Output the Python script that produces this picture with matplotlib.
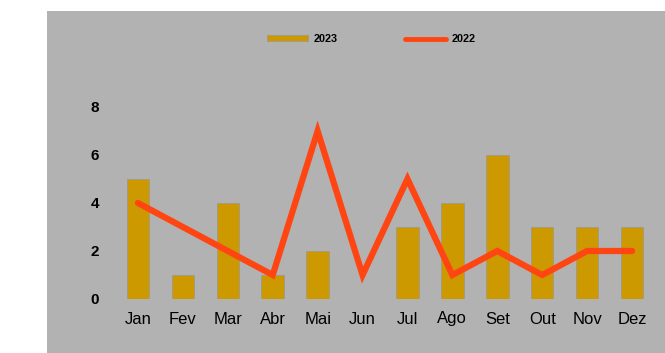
import numpy as np
import matplotlib.pyplot as plt
from matplotlib.patches import Rectangle

plt.rcParams['font.family'] = ['Liberation Sans', 'DejaVu Sans']

months = ["Jan", "Fev", "Mar", "Abr", "Mai", "Jun", "Jul", "Ago", "Set", "Out", "Nov", "Dez"]
vals_2023 = [5, 1, 4, 1, 2, 0, 3, 4, 6, 3, 3, 3]
vals_2022 = [4, 3, 2, 1, 7, 1, 5, 1, 2, 1, 2, 2]

bg = "#b2b2b2"

fig = plt.figure(figsize=(6.65, 3.53), dpi=100)
fig.patch.set_facecolor("white")
# gray panel behind the chart
fig.patches.append(Rectangle((47 / 665, 0), 1 - 47 / 665, 342 / 353,
                             transform=fig.transFigure, facecolor=bg,
                             edgecolor="none", zorder=-10))

ax = fig.add_axes([115.5 / 665, 54 / 353, 539 / 665, 240 / 353])
ax.set_facecolor("none")

x = np.arange(len(months))
bars = ax.bar(x, vals_2023, width=0.5, color="#cc9900", edgecolor="#a09a8a",
              linewidth=0.6, label="2023", zorder=2)
line, = ax.plot(x, vals_2022, color="#ff4511", linewidth=4.5, solid_capstyle="round",
                solid_joinstyle="miter", label="2022", zorder=3)

ax.set_xlim(-0.5, 11.5)
ax.set_ylim(0, 10)
ax.set_yticks([0, 2, 4, 6, 8])
ax.set_xticks(x)
ax.set_xticklabels(months, fontsize=12)
for lbl in ax.get_yticklabels():
    lbl.set_fontweight("bold")
    lbl.set_fontsize(11)
ax.tick_params(length=0)
ax.tick_params(axis="y", pad=12)
ax.tick_params(axis="x", pad=9)
for s in ax.spines.values():
    s.set_visible(False)

leg = ax.legend([bars, line], ["2023", "2022"], loc="center",
                bbox_to_anchor=(371 / 665, 1 - 39 / 353),
                bbox_transform=fig.transFigure, ncol=2, frameon=False,
                prop={"weight": "bold", "size": 7.8}, handlelength=3.8,
                handleheight=0.5, columnspacing=6.2, handletextpad=0.5)
leg.get_lines()[0].set_linewidth(3.5)

fig.savefig("out.png", dpi=100, facecolor=fig.get_facecolor())
